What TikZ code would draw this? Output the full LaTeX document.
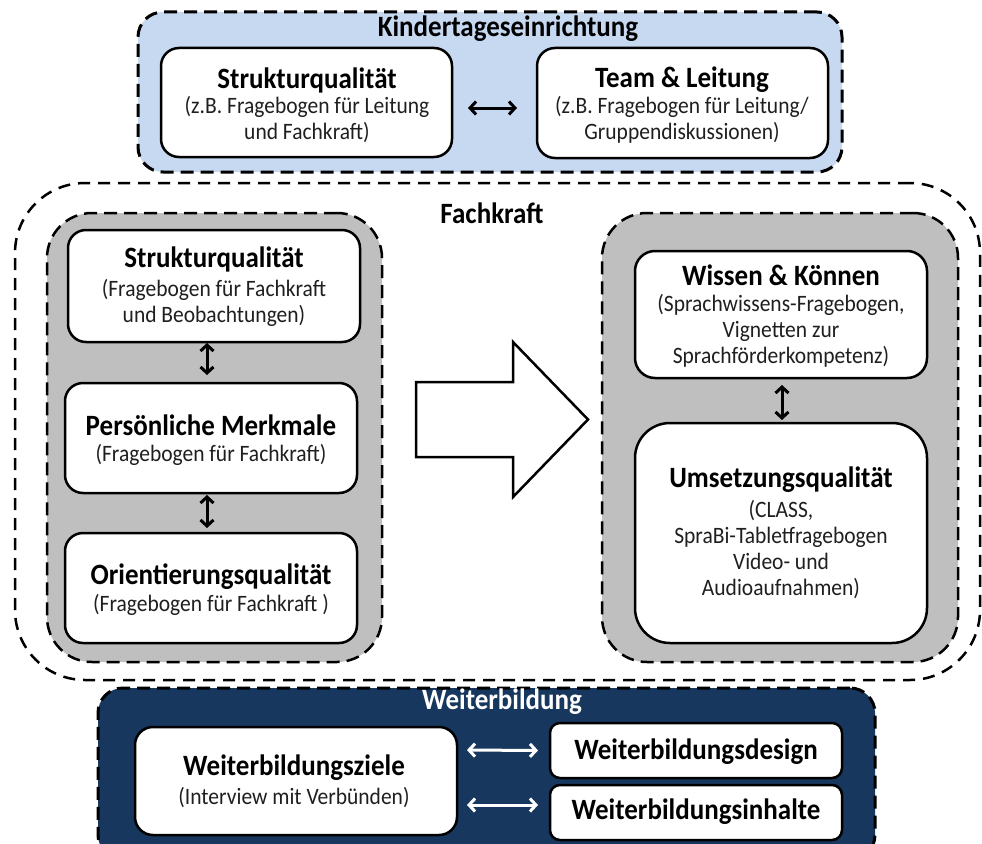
\documentclass[tikz,border=0pt]{standalone}
\usepackage{fontspec}
\setmainfont{Carlito}[FakeStretch=0.915]
\usetikzlibrary{arrows.meta}
\definecolor{kitablue}{HTML}{C6D9F1}
\definecolor{navyblue}{HTML}{17375E}
\definecolor{groupgray}{HTML}{BFBFBF}
\begin{document}
\begin{tikzpicture}[x=1pt,y=-1pt,
  wbox/.style={draw=black, line width=2.5pt, fill=white, inner sep=0pt, outer sep=0pt},
  groupbox/.style={draw=black, line width=3pt, dash pattern=on 13pt off 7pt, inner sep=0pt, outer sep=0pt},
  ttl/.style={font=\fontsize{29.5}{32}\selectfont\bfseries, inner sep=0pt},
  subtxt/.style={font=\fontsize{23.5}{26}\selectfont, align=center, inner sep=0pt, text=black!88},
  dblarrow/.style={line width=3pt, {Straight Barb[length=6pt,width=13pt]}-{Straight Barb[length=6pt,width=13pt]}},
]
\useasboundingbox (0,0) rectangle (982,843);

% Kindertageseinrichtung
\node[groupbox, fill=kitablue, rounded corners=25pt, minimum width=704pt, minimum height=160pt] (kita) at (490,92) {};
\node[ttl, anchor=base] (kitat) at (508,36.5) {Kindertageseinrichtung};
\node[wbox, rounded corners=18pt, minimum width=291pt, minimum height=109pt] (b1) at (306.5,102.5) {};
\node[wbox, rounded corners=18pt, minimum width=291pt, minimum height=110pt] (b2) at (682.5,103) {};
\node[ttl] (b1t) at (307,80) {Strukturqualität};
\node[subtxt] (b1s) at (307,119.5) {(z.B. Fragebogen für Leitung\\und Fachkraft)};
\node[ttl] (b2t) at (682,80) {Team \& Leitung};
\node[subtxt] (b2s) at (682,119.5) {(z.B. Fragebogen für Leitung/\\Gruppendiskussionen)};
\draw[dblarrow, shorten <=16pt, shorten >=20pt] ([yshift=-5.5pt]b1.east) -- ([yshift=-5pt]b2.west);

% Fachkraft
\node[groupbox, line width=2.5pt, dash pattern=on 12pt off 8pt, rounded corners=70pt, minimum width=965pt, minimum height=497pt] (fach) at (497.5,431.5) {};
\node[ttl] (facht) at (492,213) {Fachkraft};

\node[groupbox, line width=2.5pt, fill=groupgray, rounded corners=45pt, minimum width=335pt, minimum height=449pt] (gl) at (214.5,437.5) {};
\node[groupbox, line width=2.5pt, fill=groupgray, rounded corners=45pt, minimum width=356pt, minimum height=449pt] (gr) at (780,437.5) {};

\node[wbox, rounded corners=18pt, minimum width=292pt, minimum height=112pt] (bA) at (214,286) {};
\node[wbox, rounded corners=18pt, minimum width=292pt, minimum height=110pt] (bB) at (211,438) {};
\node[wbox, rounded corners=18pt, minimum width=292pt, minimum height=110pt] (bC) at (211,588) {};
\node[wbox, rounded corners=20pt, minimum width=292pt, minimum height=127pt] (bD) at (781,314.5) {};
\node[wbox, rounded corners=35pt, minimum width=292pt, minimum height=220pt] (bE) at (781,533) {};

\node[ttl] (bAt) at (214,259) {Strukturqualität};
\node[subtxt] (bAs) at (214,303) {(Fragebogen für Fachkraft\\und Beobachtungen)};
\node[ttl] (bBt) at (211,425) {Persönliche Merkmale};
\node[subtxt] (bBs) at (211,455) {(Fragebogen für Fachkraft)};
\node[ttl] (bCt) at (211,577) {Orientierungsqualität};
\node[subtxt] (bCs) at (211,605) {(Fragebogen für Fachkraft )};
\node[ttl] (bDt) at (781,275) {Wissen \& Können};
\node[subtxt] (bDs) at (781,331) {(Sprachwissens-Fragebogen,\\Vignetten zur\\Sprachförderkompetenz)};
\node[ttl] (bEt) at (781,480) {Umsetzungsqualität};
\node[subtxt] (bEs) at (781,550) {(CLASS,\\SpraBi-Tabletfragebogen\\Video- und\\Audioaufnahmen)};

\draw[dblarrow, shorten <=1pt, shorten >=8pt] ([xshift=-7pt]bA.south) -- ([xshift=-4pt]bB.north);
\draw[dblarrow, shorten <=2pt, shorten >=5pt] ([xshift=-4pt]bB.south) -- ([xshift=-4pt]bC.north);
\draw[dblarrow, shorten <=7pt, shorten >=3pt] ([xshift=1pt]bD.south) -- ([xshift=1pt]bE.north);

% big arrow
\draw[line width=2.5pt, fill=white, line join=miter] (416,382) -- (513,382) -- (513,342) -- (588,419.5) -- (513,497) -- (513,457) -- (416,457) -- cycle;

% Weiterbildung
\node[groupbox, fill=navyblue, rounded corners=25pt, minimum width=777pt, minimum height=172pt] (wb) at (486.5,774) {};
\node[ttl, text=white] (wbt) at (502,702) {Weiterbildung};
\node[wbox, rounded corners=18pt, minimum width=322pt, minimum height=108pt] (ziel) at (296,781) {};
\node[wbox, rounded corners=10pt, minimum width=292pt, minimum height=55pt] (design) at (696,750.5) {};
\node[wbox, rounded corners=10pt, minimum width=292pt, minimum height=55pt] (inhalt) at (696,812.5) {};
\node[ttl] (zielt) at (294,768) {Weiterbildungsziele};
\node[subtxt] (ziels) at (294,798) {(Interview mit Verbünden)};
\node[ttl] (designt) at (696,752) {Weiterbildungsdesign};
\node[ttl] (inhaltt) at (696,812) {Weiterbildungsinhalte};
\draw[dblarrow, draw=white, shorten <=10pt, shorten >=12pt] ([yshift=31pt]ziel.east) -- (design.west);
\draw[dblarrow, draw=white, shorten <=10pt, shorten >=12pt] ([yshift=-24pt]ziel.east) -- ([yshift=7.5pt]inhalt.west);
\end{tikzpicture}
\end{document}
